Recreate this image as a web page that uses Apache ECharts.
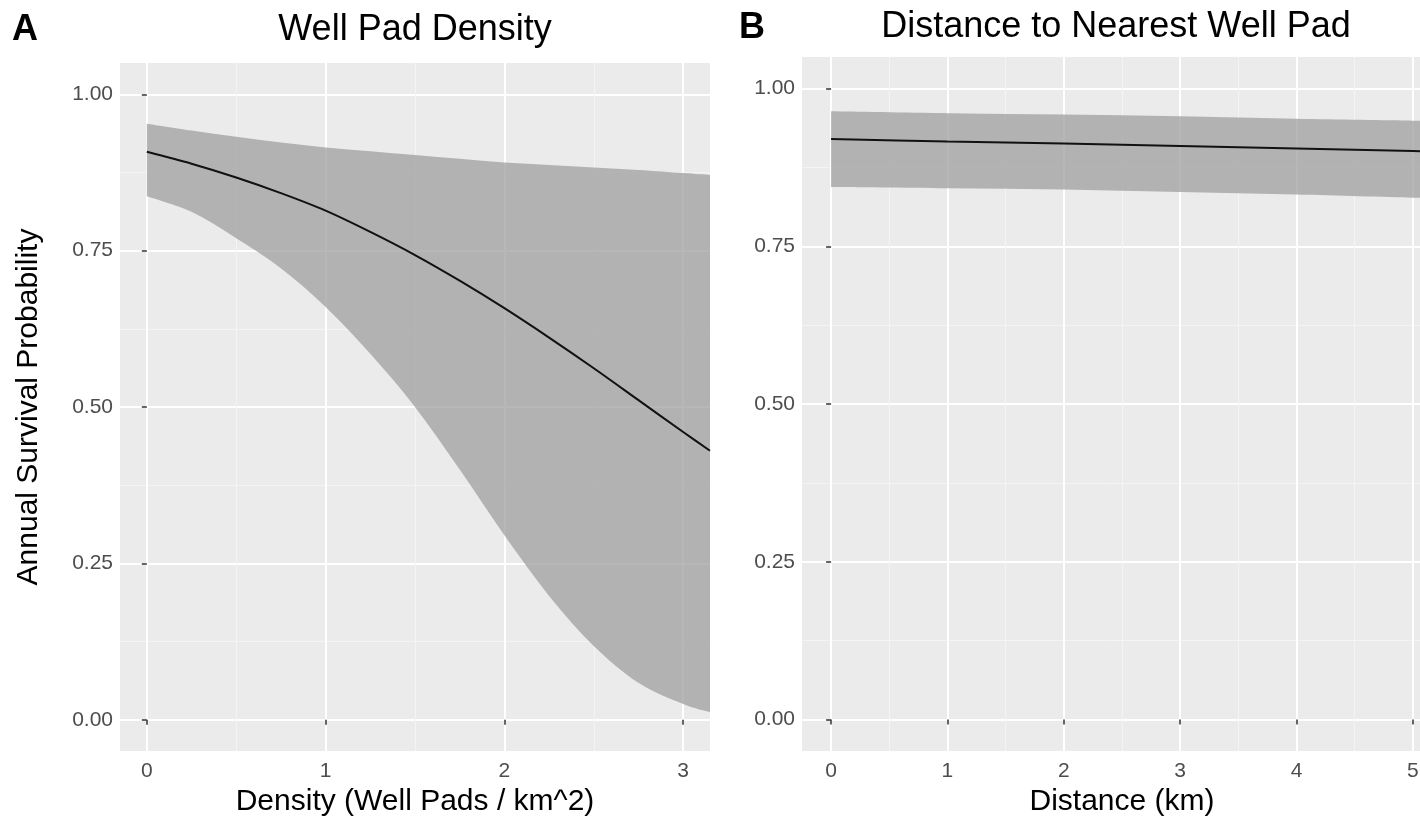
<!DOCTYPE html>
<html>
<head>
<meta charset="utf-8">
<script src="https://cdn.jsdelivr.net/npm/echarts@6/dist/echarts.min.js"></script>
<style>
html,body{margin:0;padding:0;background:#fff;}
#chart{width:1420px;height:830px;}
</style>
</head>
<body>
<div id="chart"></div>
<script>
// ---- Data ----
const densityX     = [0, 0.25, 0.5, 0.75, 1, 1.25, 1.5, 1.75, 2, 2.25, 2.5, 2.75, 3, 3.15];
const densityMean  = [0.908, 0.889, 0.867, 0.842, 0.814, 0.780, 0.743, 0.702, 0.658, 0.611, 0.562, 0.511, 0.460, 0.430];
const densityUpper = [0.953, 0.942, 0.932, 0.923, 0.915, 0.909, 0.903, 0.897, 0.891, 0.887, 0.883, 0.879, 0.874, 0.871];
const densityLower = [0.837, 0.812, 0.770, 0.722, 0.660, 0.585, 0.500, 0.400, 0.295, 0.198, 0.118, 0.059, 0.025, 0.012];

const distanceX     = [0, 1, 2, 3, 4, 5, 5.25];
const distanceMean  = [0.920, 0.916, 0.913, 0.909, 0.905, 0.901, 0.900];
const distanceUpper = [0.964, 0.961, 0.959, 0.956, 0.952, 0.949, 0.948];
const distanceLower = [0.844, 0.842, 0.840, 0.836, 0.832, 0.827, 0.826];

const densityTicks  = [0, 1, 2, 3];
const distanceTicks = [0, 1, 2, 3, 4, 5];
const survivalTicks = [0, 0.25, 0.5, 0.75, 1];

const panelTitles = ['Well Pad Density', 'Distance to Nearest Well Pad'];
const panelTags   = ['A', 'B'];
const xTitles     = ['Density (Well Pads / km^2)', 'Distance (km)'];
const yTitle      = 'Annual Survival Probability';

// ---- Styling ----
const FONT = 'Liberation Sans, Arial, sans-serif';
const BAND = 'rgba(155,155,155,0.72)';
const pairs = (xs, ys) => xs.map((x, i) => [x, ys[i]]);

function xAxisCfg(idx, min, max, ticks, name) {
  return {
    type: 'value', gridIndex: idx, min: min, max: max,
    minInterval: 1, maxInterval: 1,
    name: name, nameLocation: 'middle', nameGap: 32,
    nameTextStyle: { fontFamily: FONT, fontSize: 30, color: '#000' },
    axisLine: { show: false },
    axisTick: { show: true, length: 5, customValues: ticks, lineStyle: { color: '#333', width: 1.5 } },
    axisLabel: { show: true, customValues: ticks, margin: 10, fontFamily: FONT, fontSize: 21, color: '#4D4D4D',
      formatter: v => String(Math.round(v)) },
    splitLine: { show: true, lineStyle: { color: '#FFFFFF', width: 2 } },
    minorTick: { show: false, splitNumber: 2 },
    minorSplitLine: { show: true, lineStyle: { color: '#F4F4F4', width: 1 } }
  };
}
function yAxisCfg(idx, named) {
  return {
    type: 'value', gridIndex: idx, min: -0.05, max: 1.05,
    minInterval: 0.25, maxInterval: 0.25,
    name: named ? yTitle : '', nameLocation: 'middle', nameGap: 76,
    nameTextStyle: { fontFamily: FONT, fontSize: 30, color: '#000' },
    axisLine: { show: false },
    axisTick: { show: true, length: 5, customValues: survivalTicks, lineStyle: { color: '#333', width: 1.5 } },
    axisLabel: { show: true, customValues: survivalTicks, margin: 7, fontFamily: FONT, fontSize: 21, color: '#4D4D4D',
      formatter: v => v.toFixed(2) },
    splitLine: { show: true, lineStyle: { color: '#FFFFFF', width: 2 } },
    minorTick: { show: false, splitNumber: 2 },
    minorSplitLine: { show: true, lineStyle: { color: '#F4F4F4', width: 1 } }
  };
}
// smooth (Catmull-Rom) path segment through pixel points
function curveThrough(pts, start) {
  let d = start ? 'M' + pts[0][0] + ',' + pts[0][1] : 'L' + pts[0][0] + ',' + pts[0][1];
  for (let i = 0; i < pts.length - 1; i++) {
    const p0 = pts[Math.max(i - 1, 0)], p1 = pts[i], p2 = pts[i + 1], p3 = pts[Math.min(i + 2, pts.length - 1)];
    const c1x = p1[0] + (p2[0] - p0[0]) / 6, c1y = p1[1] + (p2[1] - p0[1]) / 6;
    const c2x = p2[0] - (p3[0] - p1[0]) / 6, c2y = p2[1] - (p3[1] - p1[1]) / 6;
    d += 'C' + c1x + ',' + c1y + ',' + c2x + ',' + c2y + ',' + p2[0] + ',' + p2[1];
  }
  return d;
}
function bandSeries(idx, xs, hi, lo, mean) {
  const rows = xs.map((x, i) => [x, lo[i], hi[i]]);
  return [
    { type: 'custom', xAxisIndex: idx, yAxisIndex: idx, data: rows, silent: true, z: 2, clip: true,
      renderItem: function (params, api) {
        if (params.dataIndex !== 0) return null;
        const top = rows.map(r => api.coord([r[0], r[2]]));
        const bot = rows.map(r => api.coord([r[0], r[1]])).reverse();
        const d = curveThrough(top, true) + curveThrough(bot, false) + 'Z';
        return { type: 'path', shape: { pathData: d }, style: { fill: BAND } };
      }
    },
    { type: 'line', xAxisIndex: idx, yAxisIndex: idx, data: pairs(xs, mean),
      symbol: 'none', smooth: 0.3, lineStyle: { color: '#111', width: 2 }, z: 3 }
  ];
}

const chart = echarts.init(document.getElementById('chart'), null, { renderer: 'canvas' });
chart.setOption({
  backgroundColor: '#FFFFFF',
  animation: false,
  grid: [
    { left: 120, top: 63, width: 590, height: 688, show: true, backgroundColor: '#EBEBEB', borderWidth: 0, containLabel: false, outerBoundsMode: 'none' },
    { left: 802, top: 57, width: 640, height: 694, show: true, backgroundColor: '#EBEBEB', borderWidth: 0, containLabel: false, outerBoundsMode: 'none' }
  ],
  xAxis: [
    xAxisCfg(0, -0.15, 3.15, densityTicks, xTitles[0]),
    xAxisCfg(1, -0.25, 5.25, distanceTicks, xTitles[1])
  ],
  yAxis: [ yAxisCfg(0, true), yAxisCfg(1, false) ],
  series: [].concat(
    bandSeries(0, densityX, densityUpper, densityLower, densityMean),
    bandSeries(1, distanceX, distanceUpper, distanceLower, distanceMean)
  ),
  graphic: [
    { type: 'text', left: 12, top: 12, style: { text: panelTags[0], fontFamily: FONT, fontSize: 36, fontWeight: 'bold', fill: '#000' } },
    { type: 'text', left: 739, top: 10, style: { text: panelTags[1], fontFamily: FONT, fontSize: 36, fontWeight: 'bold', fill: '#000' } },
    { type: 'text', x: 415, y: 30, style: { text: panelTitles[0], fontFamily: FONT, fontSize: 36, fill: '#000', align: 'center', verticalAlign: 'middle' } },
    { type: 'text', x: 1116, y: 27, style: { text: panelTitles[1], fontFamily: FONT, fontSize: 36, fill: '#000', align: 'center', verticalAlign: 'middle' } }
  ]
});
</script>
</body>
</html>
